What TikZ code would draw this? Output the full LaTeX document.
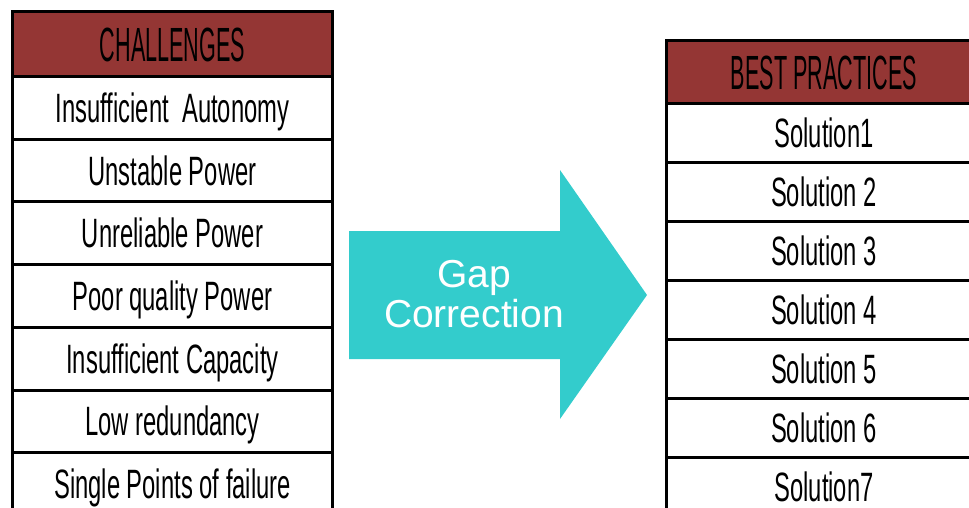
\documentclass[tikz,border=0pt]{standalone}
\usepackage{fontspec}
\setmainfont{Liberation Sans}
\newfontfamily\cellfont[FakeStretch=0.58]{Liberation Sans}
\newfontfamily\headfont[FakeStretch=0.45]{Liberation Sans}
\usepackage[svgnames]{xcolor}
\usetikzlibrary{positioning}
\definecolor{headred}{HTML}{943634}
\definecolor{gapcyan}{HTML}{33CCCC}
\newcommand{\LH}{62.7}
\newcommand{\RH}{59}

\begin{document}
\begin{tikzpicture}[x=1pt,y=-1pt,
    cell/.style={draw, line width=3pt, rectangle, inner sep=0pt, anchor=north west,
      text height=29pt, text depth=0pt, font=\cellfont\fontsize{41}{41}\selectfont},
    head/.style={cell, fill=headred, text height=35pt, font=\headfont\fontsize{48}{48}\selectfont},
    gaptext/.style={text=white, align=center, font=\fontsize{39}{40}\selectfont}]
    \clip (0,0) rectangle (969,508);
    \path (0,0) coordinate (O); % top left corner of the page

    % left table: challenges
    \node[head, minimum width=320pt, minimum height=65pt] (ch0) at (11,10) {CHALLENGES};
    \foreach \T [count=\i] in {Insufficient~ Autonomy, Unstable Power, Unreliable Power,
        Poor quality Power, Insufficient Capacity, Low redundancy, Single Points of failure}{
      \node[cell, minimum width=320pt, minimum height=\LH pt] (ch\i) at (11,75+\LH*\i-\LH) {\T};
    }

    % gap correction arrow
    \fill[gapcyan] (349,231) -- (560,231) -- (560,170) -- (647,295)
      -- (560,419) -- (560,359) -- (349,359) -- cycle;
    \node[gaptext] (gap) at (474,294) {Gap\\Correction};

    % right table: best practices
    \node[head, minimum width=315pt, minimum height=63pt] (bp0) at (665,39) {BEST PRACTICES};
    \foreach \T [count=\i] in {Solution1, Solution 2, Solution 3, Solution 4,
        Solution 5, Solution 6, Solution7}{
      \node[cell, minimum width=315pt, minimum height=\RH pt] (bp\i) at (665,102+\RH*\i-\RH) {\T};
    }
\end{tikzpicture}
\end{document}
